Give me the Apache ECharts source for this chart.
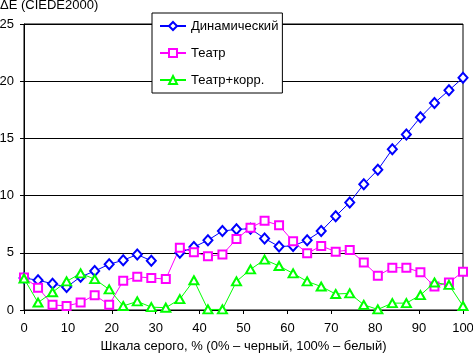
<!DOCTYPE html>
<html>
<head>
<meta charset="utf-8">
<script src="https://cdn.jsdelivr.net/npm/echarts@6/dist/echarts.min.js"></script>
<style>
  html, body { margin: 0; padding: 0; background: #fff; }
  #chart { width: 473px; height: 353px; }
</style>
</head>
<body>
<div id="chart"></div>
<script>
// уровни серого, % (32 шага)
const grayLevels = [0, 3.2, 6.5, 9.7, 12.9, 16.1, 19.4, 22.6, 25.8, 29.0, 32.3, 35.5, 38.7, 41.9, 45.2, 48.4,
  51.6, 54.8, 58.1, 61.3, 64.5, 67.7, 71.0, 74.2, 77.4, 80.6, 83.9, 87.1, 90.3, 93.5, 96.8, 100];

const dynamicDE = [2.8, 2.6, 2.3, 2.0, 2.9, 3.4, 4.0, 4.35, 4.85, 4.3, null, 5.0, 5.5, 6.1, 6.9, 7.05,
  7.1, 6.25, 5.55, 5.6, 6.1, 6.9, 8.2, 9.4, 11.0, 12.25, 14.05, 15.35, 16.85, 18.1, 19.2, 20.3];

const theatreDE = [2.85, 1.95, 0.45, 0.35, 0.65, 1.3, 0.45, 2.55, 2.9, 2.8, 2.7, 5.45, 5.05, 4.7, 4.85, 6.2,
  7.2, 7.8, 7.4, 6.0, 4.95, 5.6, 5.1, 5.25, 4.15, 3.0, 3.7, 3.7, 3.3, 2.05, 2.4, 3.35];

const theatreCorrDE = [2.75, 0.65, 1.55, 2.5, 3.2, 2.7, 1.8, 0.35, 0.75, 0.25, 0.2, 0.95, 2.6, 0.05, 0.05, 2.5,
  3.55, 4.4, 3.85, 3.2, 2.5, 2.05, 1.4, 1.45, 0.45, 0.05, 0.6, 0.6, 1.3, 2.4, 2.2, 0.35];

const seriesNames = ['Динамический', 'Театр', 'Театр+корр.'];

const font = '"Liberation Sans", Arial, sans-serif';

const toPairs = vals => grayLevels.map((x, i) => [x, vals[i] == null ? '-' : vals[i]]);

const chart = echarts.init(document.getElementById('chart'));

const lineSeries = (name, vals, color, symbol, size) => ({
  name,
  type: 'line',
  data: toPairs(vals),
  symbol,
  symbolSize: size,
  connectNulls: false,
  lineStyle: { color, width: 1 },
  itemStyle: { color, borderColor: color, borderWidth: 1 },
  emphasis: { disabled: true }
});

chart.setOption({
  animation: false,
  backgroundColor: '#fff',
  textStyle: { fontFamily: font, color: '#000' },
  title: {
    text: 'ΔE (CIEDE2000)',
    left: 0,
    top: -1,
    padding: 0,
    textStyle: { fontFamily: font, fontSize: 13, fontWeight: 'normal', color: '#000' }
  },
  legend: {
    orient: 'vertical',
    left: 152,
    top: 13,
    padding: [6, 4, 6, 7],
    itemGap: 13,
    itemWidth: 26,
    itemHeight: 10,
    backgroundColor: '#fff',
    borderColor: '#000',
    borderWidth: 1,
    borderRadius: 0,
    textStyle: { fontFamily: font, fontSize: 13, color: '#000', lineHeight: 14 },
    data: seriesNames
  },
  grid: {
    left: 24,
    right: 10,
    top: 24,
    bottom: 43,
    outerBoundsMode: 'none',
    containLabel: false,
    show: true,
    borderColor: '#000',
    borderWidth: 1,
    backgroundColor: 'transparent'
  },
  xAxis: {
    type: 'value',
    min: 0,
    max: 100,
    interval: 10,
    name: 'Шкала серого, % (0% – черный, 100% – белый)',
    nameLocation: 'middle',
    nameGap: 29,
    nameTextStyle: { fontFamily: font, fontSize: 13, color: '#000' },
    axisLine: { show: true, lineStyle: { color: '#000', width: 1 } },
    axisTick: { show: true, length: 4, lineStyle: { color: '#000' } },
    axisLabel: { fontFamily: font, fontSize: 13, color: '#000', margin: 12 },
    splitLine: { show: false }
  },
  yAxis: {
    type: 'value',
    min: 0,
    max: 25,
    interval: 5,
    axisLine: { show: true, lineStyle: { color: '#000', width: 1 } },
    axisTick: { show: true, length: 4, lineStyle: { color: '#000' } },
    axisLabel: { fontFamily: font, fontSize: 13, color: '#000', margin: 10 },
    splitLine: { show: true, lineStyle: { color: '#000', width: 1 } }
  },
  series: [
    lineSeries(seriesNames[0], dynamicDE, '#0000ff', 'emptyDiamond', [9, 10]),
    lineSeries(seriesNames[1], theatreDE, '#ff00ff', 'emptyRect', 8),
    lineSeries(seriesNames[2], theatreCorrDE, '#00ff00', 'emptyTriangle', [9, 8])
  ]
});
</script>
</body>
</html>
